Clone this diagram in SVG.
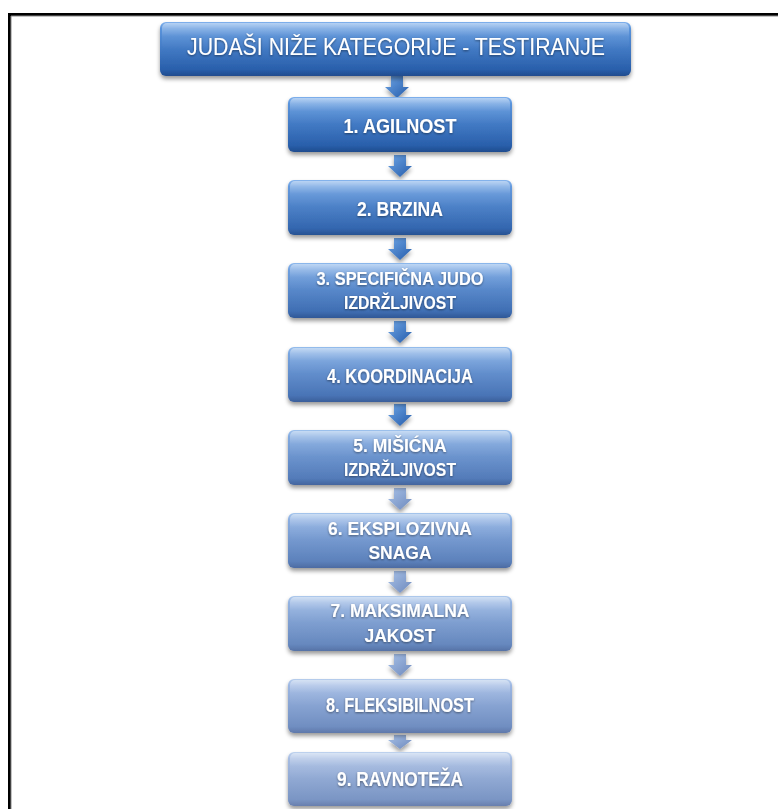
<svg xmlns="http://www.w3.org/2000/svg" width="778" height="809" viewBox="0 0 778 809">
<style>
.lbl{font-family:"Liberation Sans","DejaVu Sans",sans-serif;font-weight:bold;fill:#fff;text-anchor:middle;filter:url(#ts)}
.big{font-size:20px}
.sm{font-size:17.5px}
.ttl{font-family:"Liberation Sans","DejaVu Sans",sans-serif;font-size:23px;fill:#fff;text-anchor:middle;filter:url(#ts)}
.box{filter:url(#sh)}
.gloss{fill:url(#gl)}
</style>
<defs>
<filter id="sh" x="-10%" y="-20%" width="120%" height="150%"><feDropShadow dx="0" dy="3" stdDeviation="2" flood-color="#000" flood-opacity="0.4"/></filter>
<filter id="ts" x="-10%" y="-30%" width="120%" height="160%"><feDropShadow dx="0" dy="1" stdDeviation="0.8" flood-color="#000" flood-opacity="0.45"/></filter>
<linearGradient id="gl" x1="0" y1="0" x2="0" y2="1"><stop offset="0" stop-color="#fff" stop-opacity="0.45"/><stop offset="0.5" stop-color="#fff" stop-opacity="0.08"/><stop offset="1" stop-color="#fff" stop-opacity="0"/></linearGradient>
<linearGradient id="g1" x1="0" y1="0" x2="0" y2="1"><stop offset="0" stop-color="#7FB0EC"/><stop offset="0.12" stop-color="#5A94DC"/><stop offset="0.88" stop-color="#295FAB"/><stop offset="1" stop-color="#1F4C8E"/></linearGradient>
<linearGradient id="g2" x1="0" y1="0" x2="0" y2="1"><stop offset="0" stop-color="#86B4EC"/><stop offset="0.12" stop-color="#649ADE"/><stop offset="0.88" stop-color="#3366AF"/><stop offset="1" stop-color="#275292"/></linearGradient>
<linearGradient id="g3" x1="0" y1="0" x2="0" y2="1"><stop offset="0" stop-color="#8DB8EC"/><stop offset="0.12" stop-color="#6FA0DF"/><stop offset="0.88" stop-color="#3F6EB3"/><stop offset="1" stop-color="#305896"/></linearGradient>
<linearGradient id="g4" x1="0" y1="0" x2="0" y2="1"><stop offset="0" stop-color="#95BDEC"/><stop offset="0.12" stop-color="#78A5E0"/><stop offset="0.88" stop-color="#4974B6"/><stop offset="1" stop-color="#3A5E9A"/></linearGradient>
<linearGradient id="g5" x1="0" y1="0" x2="0" y2="1"><stop offset="0" stop-color="#9DC1EC"/><stop offset="0.12" stop-color="#82AAE0"/><stop offset="0.88" stop-color="#537BB9"/><stop offset="1" stop-color="#44659E"/></linearGradient>
<linearGradient id="g6" x1="0" y1="0" x2="0" y2="1"><stop offset="0" stop-color="#A5C5EC"/><stop offset="0.12" stop-color="#8BAEE1"/><stop offset="0.88" stop-color="#5C81BB"/><stop offset="1" stop-color="#4D6BA2"/></linearGradient>
<linearGradient id="g7" x1="0" y1="0" x2="0" y2="1"><stop offset="0" stop-color="#AEC9EC"/><stop offset="0.12" stop-color="#94B3E1"/><stop offset="0.88" stop-color="#6688BE"/><stop offset="1" stop-color="#5672A6"/></linearGradient>
<linearGradient id="g8" x1="0" y1="0" x2="0" y2="1"><stop offset="0" stop-color="#B6CDEC"/><stop offset="0.12" stop-color="#9DB7E2"/><stop offset="0.88" stop-color="#708EC1"/><stop offset="1" stop-color="#5F78AA"/></linearGradient>
<linearGradient id="g9" x1="0" y1="0" x2="0" y2="1"><stop offset="0" stop-color="#BED2EE"/><stop offset="0.12" stop-color="#A6BCE2"/><stop offset="0.88" stop-color="#7A95C4"/><stop offset="1" stop-color="#687FAE"/></linearGradient>
<linearGradient id="ga" x1="0" y1="0" x2="1" y2="1"><stop offset="0" stop-color="#6FA6E6"/><stop offset="1" stop-color="#245BAA"/></linearGradient>
<linearGradient id="gb" x1="0" y1="0" x2="1" y2="1"><stop offset="0" stop-color="#A9C2E8"/><stop offset="1" stop-color="#6C88BC"/></linearGradient>
<path id="arr" d="M-6,0 H6 V11 H12 L0,22 L-12,11 H-6 Z"/>
</defs>

<path d="M9.5,809 V14.5 H778" fill="none" stroke="#000" stroke-width="3"/>
<path d="M11,809 V16 H778" fill="none" stroke="#888" stroke-width="1"/>

<g id="connectors">
<use href="#arr" x="397" y="76" fill="url(#ga)" class="box"/>
<use href="#arr" x="400" y="155" fill="url(#ga)" class="box"/>
<use href="#arr" x="400" y="238" fill="url(#ga)" class="box"/>
<use href="#arr" x="400" y="321" fill="url(#ga)" class="box"/>
<use href="#arr" x="400" y="404" fill="url(#ga)" class="box"/>
<use href="#arr" x="400" y="488" fill="url(#gb)" class="box"/>
<use href="#arr" x="400" y="571" fill="url(#gb)" class="box"/>
<use href="#arr" x="400" y="654" fill="url(#gb)" class="box"/>
<path d="M394,735 H406 V740 H412 L400,749 L388,740 H394 Z" fill="url(#gb)" class="box"/>
</g>

<g id="title">
<rect class="box" x="160" y="22" width="471" height="54" rx="6" fill="url(#g1)"/>
<rect class="gloss" x="162" y="23" width="467" height="26" rx="5"/>
<text class="ttl" x="396" y="55" textLength="418" lengthAdjust="spacingAndGlyphs">JUDAŠI NIŽE KATEGORIJE - TESTIRANJE</text>
</g>

<g id="n1">
<rect class="box" x="288" y="97" width="224" height="55" rx="6" fill="url(#g1)"/>
<rect class="gloss" x="290" y="98" width="220" height="26" rx="5"/>
<text class="lbl big" x="400" y="133" textLength="113" lengthAdjust="spacingAndGlyphs">1. AGILNOST</text>
</g>

<g id="n2">
<rect class="box" x="288" y="180" width="224" height="55" rx="6" fill="url(#g2)"/>
<rect class="gloss" x="290" y="181" width="220" height="26" rx="5"/>
<text class="lbl big" x="400" y="216" textLength="86" lengthAdjust="spacingAndGlyphs">2. BRZINA</text>
</g>

<g id="n3">
<rect class="box" x="288" y="263" width="224" height="55" rx="6" fill="url(#g3)"/>
<rect class="gloss" x="290" y="264" width="220" height="26" rx="5"/>
<text class="lbl sm" x="400" y="285" textLength="167" lengthAdjust="spacingAndGlyphs">3. SPECIFIČNA JUDO</text>
<text class="lbl sm" x="400" y="309" textLength="112" lengthAdjust="spacingAndGlyphs">IZDRŽLJIVOST</text>
</g>

<g id="n4">
<rect class="box" x="288" y="347" width="224" height="55" rx="6" fill="url(#g4)"/>
<rect class="gloss" x="290" y="348" width="220" height="26" rx="5"/>
<text class="lbl big" x="400" y="383" textLength="146" lengthAdjust="spacingAndGlyphs">4. KOORDINACIJA</text>
</g>

<g id="n5">
<rect class="box" x="288" y="430" width="224" height="55" rx="6" fill="url(#g5)"/>
<rect class="gloss" x="290" y="431" width="220" height="26" rx="5"/>
<text class="lbl sm" x="400" y="452">5. MIŠIĆNA</text>
<text class="lbl sm" x="400" y="476" textLength="112" lengthAdjust="spacingAndGlyphs">IZDRŽLJIVOST</text>
</g>

<g id="n6">
<rect class="box" x="288" y="513" width="224" height="55" rx="6" fill="url(#g6)"/>
<rect class="gloss" x="290" y="514" width="220" height="26" rx="5"/>
<text class="lbl sm" x="400" y="535">6. EKSPLOZIVNA</text>
<text class="lbl sm" x="400" y="559">SNAGA</text>
</g>

<g id="n7">
<rect class="box" x="288" y="596" width="224" height="55" rx="6" fill="url(#g7)"/>
<rect class="gloss" x="290" y="597" width="220" height="26" rx="5"/>
<text class="lbl sm" x="400" y="617">7. MAKSIMALNA</text>
<text class="lbl sm" x="400" y="642">JAKOST</text>
</g>

<g id="n8">
<rect class="box" x="288" y="679" width="224" height="54" rx="6" fill="url(#g8)"/>
<rect class="gloss" x="290" y="680" width="220" height="26" rx="5"/>
<text class="lbl big" x="400" y="712" textLength="148" lengthAdjust="spacingAndGlyphs">8. FLEKSIBILNOST</text>
</g>

<g id="n9">
<rect class="box" x="288" y="752" width="224" height="54" rx="6" fill="url(#g9)"/>
<rect class="gloss" x="290" y="753" width="220" height="26" rx="5"/>
<text class="lbl big" x="400" y="786" textLength="126" lengthAdjust="spacingAndGlyphs">9. RAVNOTEŽA</text>
</g>
</svg>
